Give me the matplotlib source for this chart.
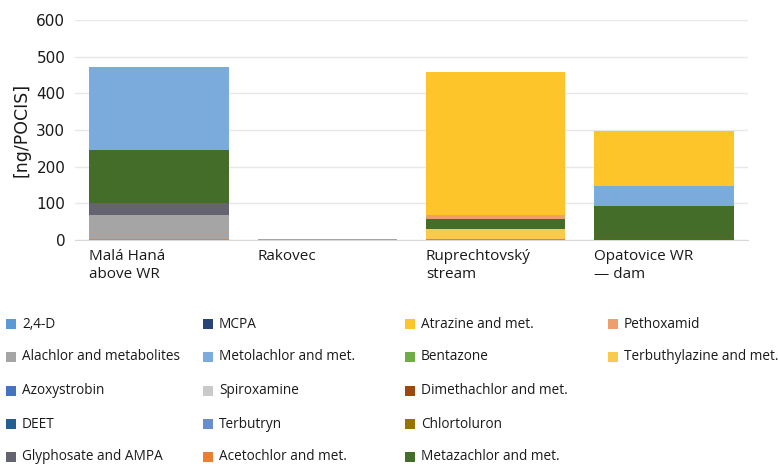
import numpy as np
import matplotlib.pyplot as plt
from matplotlib.patches import Rectangle

plt.rcParams['font.family'] = ['Open Sans', 'DejaVu Sans']

# sampling sites
sites = ['Malá Haná\nabove WR', 'Rakovec', 'Ruprechtovský\nstream', 'Opatovice WR\n— dam']

# compounds as listed in the legend (column by column)
compounds = ['2,4-D', 'Alachlor and metabolites', 'Azoxystrobin', 'DEET', 'Glyphosate and AMPA',
             'MCPA', 'Metolachlor and met.', 'Spiroxamine', 'Terbutryn', 'Acetochlor and met.',
             'Atrazine and met.', 'Bentazone', 'Dimethachlor and met.', 'Chlortoluron',
             'Metazachlor and met.', 'Pethoxamid', 'Terbuthylazine and met.']
colors = ['#5b9bd5', '#a5a5a5', '#4472c4', '#255e91', '#646470',
          '#264478', '#7aabdc', '#c9c9c9', '#698ed0', '#ed7d31',
          '#fdc52a', '#70ad47', '#9e480e', '#997300',
          '#446d2a', '#eea06c', '#f9ca4c']

# amounts in ng/POCIS per site (compounds not listed were below detection)
acetochlor = [4, 0, 3, 0]
dimethachlor = [0, 0, 0, 3]
alachlor = [64, 4, 0, 0]
glyphosate = [32, 0, 0, 0]
terbuthylazine = [0, 0, 28, 0]
metazachlor = [145, 0, 27, 90]
pethoxamid = [0, 0, 11, 0]
metolachlor = [226, 0, 0, 55]
atrazine = [0, 0, 389, 149]

stack = [(acetochlor, 'Acetochlor and met.'),
         (dimethachlor, 'Dimethachlor and met.'),
         (alachlor, 'Alachlor and metabolites'),
         (glyphosate, 'Glyphosate and AMPA'),
         (terbuthylazine, 'Terbuthylazine and met.'),
         (metazachlor, 'Metazachlor and met.'),
         (pethoxamid, 'Pethoxamid'),
         (metolachlor, 'Metolachlor and met.'),
         (atrazine, 'Atrazine and met.')]

fig = plt.figure(figsize=(7.78, 4.66), dpi=100)
ax = fig.add_axes([0.0964, 0.485, 0.865, 0.472])

x = np.arange(len(sites))
width = 0.83
bottom = np.zeros(len(sites))
for vals, name in stack:
    vals = np.array(vals, dtype=float)
    c = colors[compounds.index(name)]
    ax.bar(x, vals, width, bottom=bottom, color=c, linewidth=0, zorder=3)
    bottom += vals

ax.set_xlim(-0.5, len(sites) - 0.5)
ax.set_ylim(0, 600)
ax.set_yticks(np.arange(0, 601, 100))
ax.yaxis.grid(True, color='#e8e8e8', linewidth=1, zorder=0)
for s in ['top', 'right', 'left']:
    ax.spines[s].set_visible(False)
ax.spines['bottom'].set_color('#d9d9d9')
ax.tick_params(axis='y', length=0, pad=7, labelcolor='#1a1a1a')
for t in ax.get_yticklabels():
    t.set_fontfamily('DejaVu Sans')
    t.set_fontsize(11)
ax.set_xticks([])
ax.set_ylabel('[ng/POCIS]', fontsize=12.5, family='DejaVu Sans', color='#1a1a1a', labelpad=4)

# category labels sit left-aligned under each bar
for i, lab in enumerate(sites):
    ax.text(i - width / 2, -0.04, lab, transform=ax.get_xaxis_transform(),
            ha='left', va='top', fontsize=11, color='#1a1a1a', linespacing=1.3)

# legend laid out in fixed-width columns of five rows
W, H = fig.get_size_inches() * fig.dpi
col_x = [6, 203, 405, 608]
row_y = [324, 357, 391, 424, 457]
for i, (name, c) in enumerate(zip(compounds, colors)):
    cx = col_x[i // 5]
    ry = row_y[i % 5]
    fig.patches.append(Rectangle((cx / W, 1 - (ry + 5) / H), 10 / W, 10 / H,
                                 transform=fig.transFigure, color=c, linewidth=0))
    fig.text((cx + 16) / W, 1 - ry / H, name, ha='left', va='center',
             fontsize=9.8, color='#1a1a1a')

fig.savefig('out.png', dpi=100)
